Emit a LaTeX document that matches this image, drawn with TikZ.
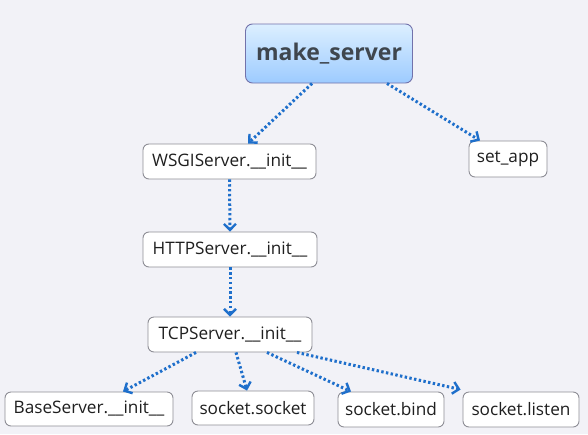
\documentclass[tikz,border=0pt]{standalone}
\usepackage{fontspec}
\setmainfont{Open Sans}
\usetikzlibrary{arrows.meta}
\definecolor{bgcol}{HTML}{F2F2F7}
\definecolor{linkcol}{HTML}{1E6FCB}
\definecolor{edgecol}{HTML}{8E8E96}
\definecolor{topcol}{HTML}{DCEFFF}
\definecolor{botcol}{HTML}{9DCBFF}
\definecolor{textcol}{HTML}{3F464E}
\begin{document}
\begin{tikzpicture}[x=1pt,y=-1pt,
    box/.style={draw=edgecol,line width=0.9pt,fill=white,rounded corners=6pt,
      inner sep=0pt,font=\fontsize{17.2}{20}\selectfont,text=black!88},
    topbox/.style={draw=edgecol!80!blue,line width=0.9pt,rounded corners=7pt,
      top color=topcol,bottom color=botcol,inner sep=0pt,
      font=\fontsize{23}{26}\selectfont\bfseries,text=textcol},
    link/.style={draw=linkcol,line width=3pt,dash pattern=on 2.4pt off 2.4pt,
      -{Straight Barb[length=6pt,width=12pt,line width=2.4pt]}}]
          % page
          \fill[bgcol] (0,0) rectangle (588,434);

          % top of the call tree
          \node[topbox,minimum width=167,minimum height=59] (make) at (329,53.5) {make\_server};
          \node[box,minimum width=173,minimum height=35] (wsgi) at (229.5,161.5) {WSGIServer.\_\_init\_\_};
          \node[box,minimum width=78,minimum height=36] (setapp) at (508,159) {set\_app};
          \node[box,minimum width=174,minimum height=35] (http) at (230,249.5) {HTTPServer.\_\_init\_\_};
          \node[box,minimum width=164,minimum height=35] (tcp) at (230,334.5) {TCPServer.\_\_init\_\_};

          % bottom row
          \node[box,minimum width=168,minimum height=34] (base) at (89,409) {BaseServer.\_\_init\_\_};
          \node[box,minimum width=122,minimum height=34] (sock) at (253,408) {socket.socket};
          \node[box,minimum width=106,minimum height=35] (bind) at (391,409.5) {socket.bind};
          \node[box,minimum width=116,minimum height=35] (listen) at (521,409.5) {socket.listen};

          % calls
          \draw[link] ([xshift=-17]make.south) -- ([xshift=18.5]wsgi.north);
          \draw[link] ([xshift=58]make.south) -- ([xshift=-28]setapp.north);
          \draw[link] (wsgi.south) -- (http.north);
          \draw[link] (http.south) -- (tcp.north);
          \draw[link] ([xshift=-34]tcp.south) -- ([xshift=34]base.north);
          \draw[link] ([xshift=6]tcp.south) -- ([xshift=-6]sock.north);
          \draw[link] ([xshift=37]tcp.south) -- ([xshift=-40]bind.north);
          \draw[link] ([xshift=67]tcp.south) -- ([xshift=-2,yshift=2]listen.north west);
        \end{tikzpicture}
\end{document}
